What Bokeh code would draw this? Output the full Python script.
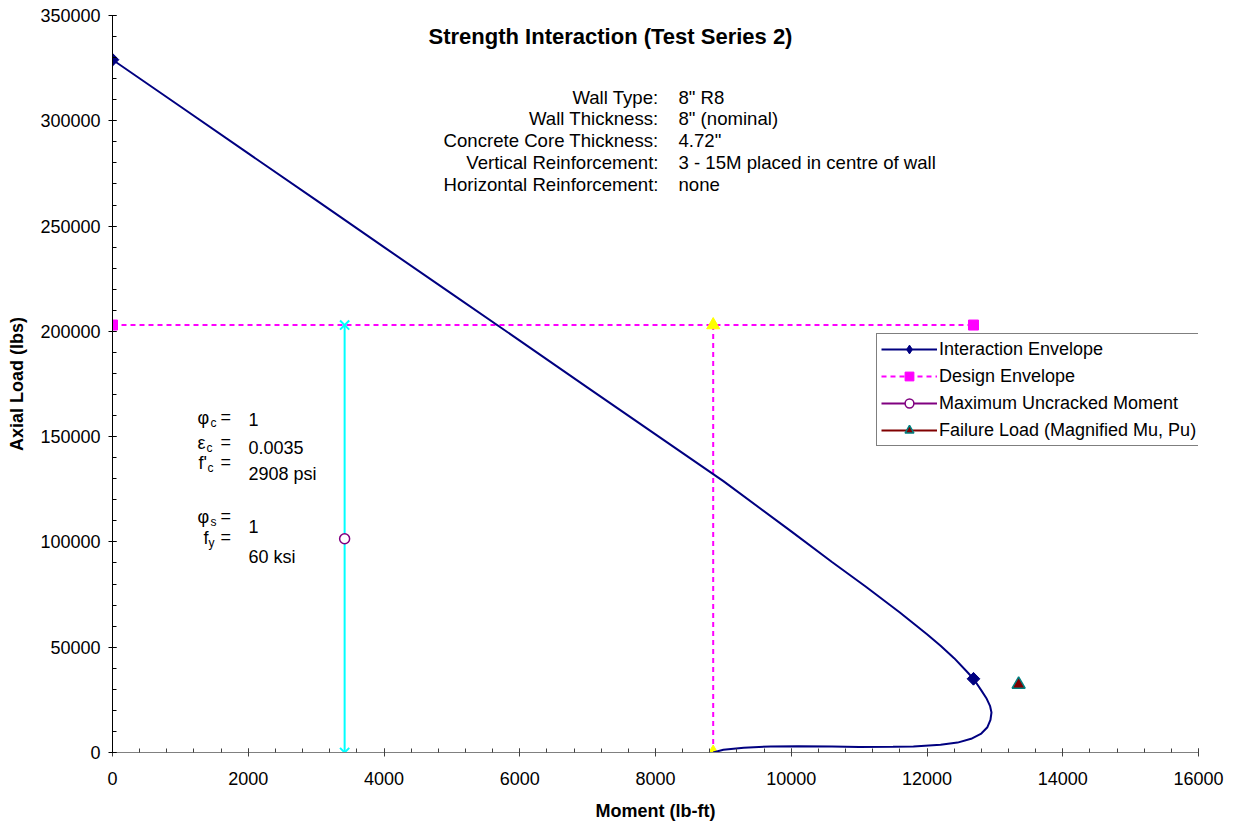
import numpy as np
from bokeh.plotting import figure
from bokeh.models import (Label, Legend, LegendItem, SingleIntervalTicker,
                          BasicTickFormatter, Range1d)
from bokeh.embed import file_html
from bokeh.resources import INLINE

# ---------------- data ----------------
env_moment = [0, 1000, 2000, 3000, 4000, 5000, 6000, 7000, 8000, 9000, 10000,
              10600, 11100, 11600, 12000, 12200, 12400, 12600, 12685,
              12800, 12880, 12930, 12950, 12935, 12890, 12800, 12650, 12450,
              12200, 11800, 11500, 11000, 10600, 10100, 9700, 9300, 9000, 8850]
env_axial = [329000, 306800, 284500, 262300, 240000, 217800, 195600, 173300,
             151100, 128900, 105000, 90500, 78700, 66500, 56200, 50700, 44800,
             38000, 35000, 29500, 25500, 22000, 19000, 15500, 12000, 9000,
             6500, 4700, 3700, 2900, 2700, 2600, 2800, 3000, 2900, 2300, 1300, 0]
env_mark_moment = [0, 12685]
env_mark_axial = [329000, 35000]

design_moment = [0, 12685]
design_axial = [203000, 203000]

design_vert_moment = [8850, 8850]
design_vert_axial = [203000, 0]

crack_line_moment = [3420, 3420]
crack_line_axial = [0, 203000]

uncracked_moment = [3420]
uncracked_axial = [101500]

failure_moment = [13350]
failure_axial = [32300]

wall_labels = ["Wall Type:", "Wall Thickness:", "Concrete Core Thickness:",
               "Vertical Reinforcement:", "Horizontal Reinforcement:"]
wall_values = ['8" R8', '8" (nominal)', '4.72"',
               '3 - 15M placed in centre of wall', 'none']

x_ticks_interval = 2000
y_ticks_interval = 50000

FONT = "Liberation Sans"

# ---------------- figure ----------------
p = figure(width=1233, height=823, x_range=Range1d(0, 16000),
           y_range=Range1d(0, 350000), output_backend="svg",
           toolbar_location=None, min_border_left=112, min_border_right=35,
           min_border_top=15, min_border_bottom=71)
p.outline_line_color = None
p.grid.visible = False
p.background_fill_color = "white"

p.xaxis.ticker = SingleIntervalTicker(interval=x_ticks_interval, num_minor_ticks=5)
p.yaxis.ticker = SingleIntervalTicker(interval=y_ticks_interval, num_minor_ticks=5)
p.yaxis.formatter = BasicTickFormatter(use_scientific=False)
p.xaxis.formatter = BasicTickFormatter(use_scientific=False)

for ax in (p.xaxis[0], p.yaxis[0]):
    ax.major_tick_in = 4
    ax.major_tick_out = 4
    ax.minor_tick_in = 4
    ax.minor_tick_out = 0
    ax.major_label_text_font = FONT
    ax.major_label_text_font_size = "18px"
    ax.major_label_text_color = "black"
    ax.axis_label_text_font = FONT
    ax.axis_label_text_font_size = "18px"
    ax.axis_label_text_font_style = "bold"
    ax.axis_label_text_color = "black"

p.yaxis.major_label_standoff = 8
p.yaxis.axis_label_standoff = 10
p.xaxis.major_label_standoff = 15
p.xaxis.axis_label_standoff = 13

p.xaxis.axis_label = "Moment (lb-ft)"
p.yaxis.axis_label = "Axial Load (lbs)"
p.xaxis.axis_line_color = "#808080"
p.xaxis.major_tick_line_color = "#404040"
p.xaxis.minor_tick_line_color = "#404040"
p.yaxis.axis_line_color = "black"
p.yaxis.major_tick_line_color = "black"
p.yaxis.minor_tick_line_color = "black"

# ---------------- glyphs ----------------
r_dline = p.line(design_moment, design_axial, line_color="#FF00FF",
                 line_width=2, line_dash="5 4")
r_dsq = p.scatter(design_moment, design_axial, marker="square", size=10,
                  fill_color="#FF00FF", line_color="#FF00FF")

p.line(design_vert_moment, design_vert_axial, line_color="#FF00FF",
       line_width=2, line_dash="5 4")
p.scatter(design_vert_moment, design_vert_axial, marker="triangle", size=13,
          fill_color="#FFFF00", line_color="#FFFF00")

p.line(crack_line_moment, crack_line_axial, line_color="#00FFFF", line_width=2)
p.scatter(crack_line_moment, crack_line_axial, marker="x", size=13,
          line_color="#00FFFF", line_width=2)

r_eline = p.line(env_moment, env_axial, line_color="#000080", line_width=2)
r_emark = p.scatter(env_mark_moment, env_mark_axial, marker="diamond",
                    size=12, fill_color="#000080", line_color="#000080")
p.scatter(env_mark_moment, env_mark_axial, marker="square",
          angle=np.pi / 4, size=9, fill_color="#000080", line_color="#000080")

r_uline = p.line(uncracked_moment, uncracked_axial, line_color="#800080",
                 line_width=2)
r_umark = p.scatter(uncracked_moment, uncracked_axial, marker="circle",
                    size=10, fill_color="white", line_color="#800080",
                    line_width=1.5)

r_fline = p.line(failure_moment, failure_axial, line_color="#800000",
                 line_width=2)
r_fmark = p.scatter(failure_moment, failure_axial, marker="triangle", size=13,
                    fill_color="#800000", line_color="#008080", line_width=1.5)

# ---------------- legend ----------------
legend = Legend(items=[
    LegendItem(label="Interaction Envelope", renderers=[r_eline, r_emark]),
    LegendItem(label="Design Envelope", renderers=[r_dline, r_dsq]),
    LegendItem(label="Maximum Uncracked Moment", renderers=[r_uline, r_umark]),
    LegendItem(label="Failure Load (Magnified Mu, Pu)", renderers=[r_fline, r_fmark]),
], location=(764, 306))
legend.label_text_font = FONT
legend.label_text_font_size = "18px"
legend.label_text_color = "black"
legend.label_height = 22
legend.glyph_height = 22
legend.glyph_width = 56
legend.spacing = 5
legend.padding = 4
legend.margin = 0
legend.label_standoff = 2
legend.border_line_color = "black"
legend.border_line_width = 1
legend.background_fill_color = "white"
legend.background_fill_alpha = 1
p.add_layout(legend, "center")


# ---------------- text ----------------
def dx(px):
    return (px - 112) / 1086 * 16000


def dy(py):
    return (752 - py) / 737 * 350000


def lab(text, px, py, size="18px", align="left", style="normal"):
    p.add_layout(Label(x=dx(px), y=dy(py), text=text, text_font=FONT,
                       text_font_size=size, text_align=align,
                       text_baseline="middle", text_font_style=style,
                       text_color="black"))


lab("Strength Interaction (Test Series 2)", 610, 36, size="22px",
    align="center", style="bold")

for i, (l, v) in enumerate(zip(wall_labels, wall_values)):
    yy = 96.5 + 21.8 * i
    lab(l, 658, yy, size="18.6px", align="right")
    lab(v, 678, yy, size="18.6px", align="left")

# left block: symbols with subscripts
sym_rows = [
    ("φ", "c", 197, 210, 417, "1", 419),
    ("ε", "c", 197, 206, 442, "0.0035", 446.5),
    ("f'", "c", 198, 207, 462, "2908 psi", 473),
    ("φ", "s", 197, 210, 516, "1", 526),
    ("f", "y", 203, 208, 537, "60 ksi", 556),
]
for main, sub, mx, sx, yy, val, vy in sym_rows:
    lab(main, mx, yy)
    lab(sub, sx, yy + 5, size="12px")
    lab("=", 220, yy - 1)
    lab(val, 248, vy)

open("out.html", "w").write(file_html(p, INLINE))
